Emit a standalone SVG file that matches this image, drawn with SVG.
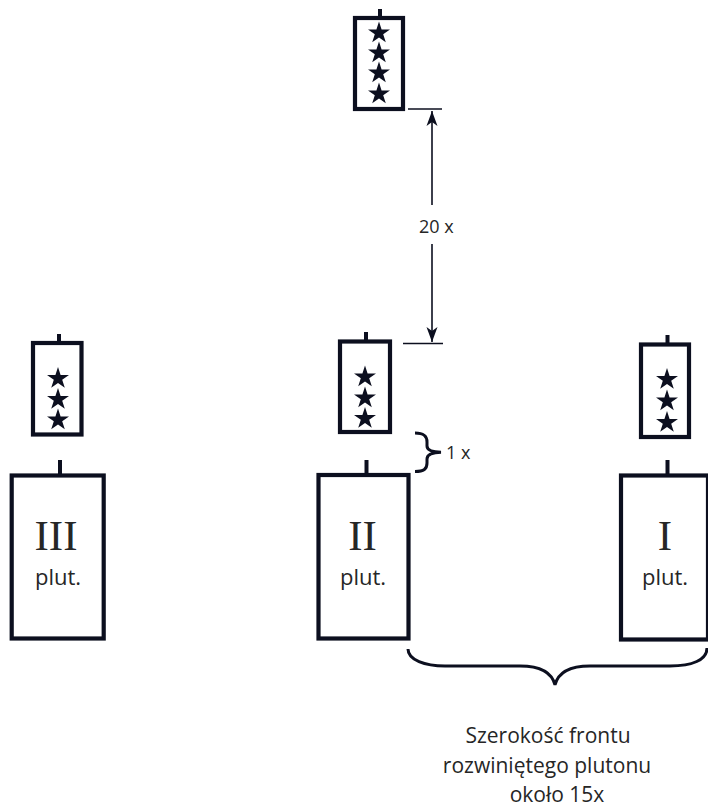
<svg xmlns="http://www.w3.org/2000/svg" width="708" height="808" viewBox="0 0 708 808">
<style>
.box{fill:#fff;stroke:#0c0f1f;stroke-width:4.2}
.stem{stroke:#0c0f1f;stroke-width:4}
.thin{stroke:#0c0f1f;stroke-width:1.6;fill:none}
.brace{stroke:#0c0f1f;stroke-width:3;fill:none}
.star{fill:#0c0f1f}
.roman{font-family:"Liberation Serif",serif;font-size:43px;fill:#262626;text-anchor:middle}
.lbl{font-family:"Open Sans","Noto Sans",sans-serif;font-size:21px;fill:#262626;text-anchor:middle}
.dim{font-family:"Open Sans","Noto Sans",sans-serif;font-size:18px;fill:#262626}
</style>
<defs>
<path id="star" d="M0,-11.55 L2.593,-3.568 L10.985,-3.57 L4.195,1.363 L6.789,9.345 L0,4.411 L-6.789,9.345 L-4.195,1.363 L-10.985,-3.57 L-2.593,-3.568 Z"/>
<marker id="ah" markerUnits="userSpaceOnUse" markerWidth="20" markerHeight="16" refX="0" refY="0" viewBox="-16 -8 20 16" orient="auto-start-reverse">
<path d="M0,0 L-15,-5.5 L-11,0 L-15,5.5 Z" fill="#0c0f1f"/>
</marker>
</defs>
<rect width="708" height="808" fill="#fff"/>

<g id="hq4">
<line class="stem" x1="380" y1="9" x2="380" y2="18"/>
<rect class="box" x="355" y="18" width="48" height="91"/>
<use href="#star" class="star" x="379" y="33"/>
<use href="#star" class="star" x="379" y="53"/>
<use href="#star" class="star" x="379" y="73"/>
<use href="#star" class="star" x="379" y="94"/>
</g>

<g id="hq3-left">
<line class="stem" x1="59" y1="334" x2="59" y2="343"/>
<rect class="box" x="33" y="343" width="48.5" height="91.5"/>
<use href="#star" class="star" x="58" y="378.5"/>
<use href="#star" class="star" x="58" y="399.5"/>
<use href="#star" class="star" x="58" y="420"/>
</g>

<g id="hq3-mid">
<line class="stem" x1="366" y1="332" x2="366" y2="341.5"/>
<rect class="box" x="340" y="341.5" width="50" height="90.5"/>
<use href="#star" class="star" x="365" y="377"/>
<use href="#star" class="star" x="365" y="398"/>
<use href="#star" class="star" x="365" y="418.5"/>
</g>

<g id="hq3-right">
<line class="stem" x1="667.5" y1="335" x2="667.5" y2="344.5"/>
<rect class="box" x="641" y="344.5" width="48" height="92.5"/>
<use href="#star" class="star" x="667" y="379.5"/>
<use href="#star" class="star" x="667" y="401"/>
<use href="#star" class="star" x="667" y="422.5"/>
</g>

<g id="plut3">
<line class="stem" x1="60" y1="460" x2="60" y2="475.5"/>
<rect class="box" x="11.7" y="475.5" width="92" height="163"/>
<text class="roman" x="56" y="550">III</text>
<text class="lbl" x="58" y="585" style="font-size:22px">plut.</text>
</g>

<g id="plut2">
<line class="stem" x1="366.5" y1="460" x2="366.5" y2="475"/>
<rect class="box" x="318.5" y="475" width="90" height="163.5"/>
<text class="roman" x="362.5" y="550">II</text>
<text class="lbl" x="363" y="585" style="font-size:22px">plut.</text>
</g>

<g id="plut1">
<line class="stem" x1="667.5" y1="460" x2="667.5" y2="475.5"/>
<rect class="box" x="621" y="475.5" width="87" height="164"/>
<text class="roman" x="665" y="550">I</text>
<text class="lbl" x="665" y="585" style="font-size:22px">plut.</text>
</g>

<g id="connectors">
<line class="thin" x1="408" y1="109" x2="442" y2="109"/>
<line class="thin" x1="403" y1="343.5" x2="443" y2="343.5"/>
<line class="thin" x1="432" y1="205" x2="432" y2="111" marker-end="url(#ah)"/>
<line class="thin" x1="432" y1="244" x2="432" y2="342" marker-end="url(#ah)"/>
<path class="brace" d="M415,433 C424,433 427,436 427,442 L427,446 C427,450 432,452 441,452.3 C432,452.6 427,455 427,459 L427,463 C427,469 424,471.5 415,471.5"/>
<path class="brace" d="M408,649 C408,660 425,666 445,666 L520,666 C540,666 552,673 555,685 C558,673 570,666 590,666 L670,666 C692,666 707,660 707,648"/>
</g>

<g id="labels">
<text class="dim" x="419" y="233">20 x</text>
<text class="dim" x="446" y="459">1 x</text>
<text class="lbl" x="548" y="743">Szerokość frontu</text>
<text class="lbl" x="547" y="773">rozwiniętego plutonu</text>
<text class="lbl" x="557" y="802">około 15x</text>
</g>
</svg>
